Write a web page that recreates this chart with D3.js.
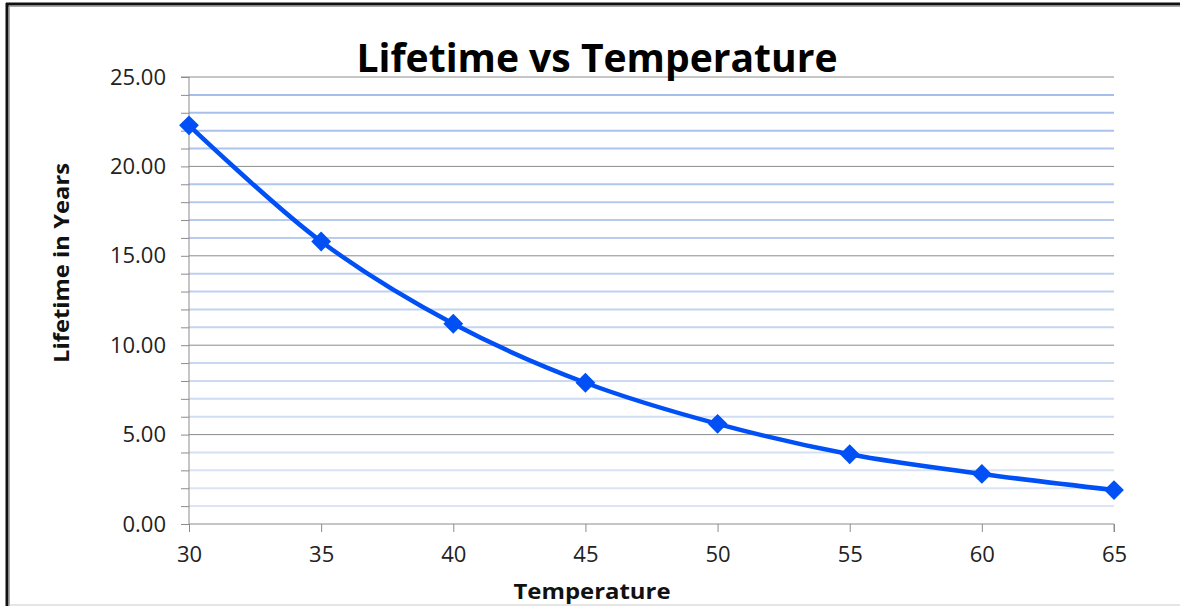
<!DOCTYPE html>
<html><head><meta charset="utf-8">
<script src="https://cdn.jsdelivr.net/npm/d3@7"></script>
<style>body{margin:0;background:#fff}svg{display:block}</style>
</head><body>
<svg id="c" width="1180" height="606"></svg>
<script>
const temperatures = [30, 35, 40, 45, 50, 55, 60, 65];
const lifetimes = [22.3, 15.8, 11.2, 7.9, 5.6, 3.9, 2.8, 1.9];
const yTicks = [0, 5, 10, 15, 20, 25];
const xTicks = [30, 35, 40, 45, 50, 55, 60, 65];
const minorTicks = d3.range(0, 26, 1);

const svg = d3.select("#c");
const L = 189, R = 1114, T = 77, B = 524;
const x = d3.scaleLinear().domain([30, 65]).range([L, R]);
const y = d3.scaleLinear().domain([0, 25]).range([B, T]);
const font = "'Open Sans', 'Liberation Sans', sans-serif";

// frame
svg.append("rect").attr("x",0).attr("y",0).attr("width",1180).attr("height",606).attr("fill","#fff");
svg.append("line").attr("x1",6).attr("x2",1180).attr("y1",4).attr("y2",4).attr("stroke","#111").attr("stroke-width",3);
svg.append("line").attr("x1",6).attr("x2",1180).attr("y1",6.5).attr("y2",6.5).attr("stroke","#aaa").attr("stroke-width",1);
svg.append("line").attr("x1",7).attr("x2",7).attr("y1",3).attr("y2",606).attr("stroke","#111").attr("stroke-width",3);
svg.append("line").attr("x1",9.5).attr("x2",9.5).attr("y1",6).attr("y2",606).attr("stroke","#aaa").attr("stroke-width",1);
svg.append("line").attr("x1",9).attr("x2",1180).attr("y1",605).attr("y2",605).attr("stroke","#ccc").attr("stroke-width",1);

// minor gridlines
const cMinor = d3.interpolateRgb("#dfe7f5", "#a3bdea");
svg.append("g").selectAll("line").data(minorTicks.filter(v => v % 5 !== 0)).join("line")
  .attr("x1", L).attr("x2", R).attr("y1", d => y(d)).attr("y2", d => y(d))
  .attr("stroke", d => cMinor(d / 25)).attr("stroke-width", 2);
// major gridlines
svg.append("g").selectAll("line").data(yTicks.filter(v => v > 0)).join("line")
  .attr("x1", L).attr("x2", R).attr("y1", d => y(d)).attr("y2", d => y(d))
  .attr("stroke", "#8c8c8c").attr("stroke-width", 1);

// y axis
const yAx = svg.append("g").attr("transform", `translate(${L},0)`)
  .call(d3.axisLeft(y).tickValues(minorTicks).tickSize(8).tickFormat(d => yTicks.includes(d) ? d3.format(".2f")(d) : ""));
yAx.select(".domain").attr("stroke", "#8c8c8c").attr("d", `M-8,${T}H0V${B}`);
yAx.selectAll(".tick line").attr("stroke", "#8c8c8c");
yAx.selectAll(".tick text").attr("font-family", font).attr("font-size", 22).attr("fill", "#222").attr("x", -23);

// x axis
const xAx = svg.append("g").attr("transform", `translate(0,${B})`)
  .call(d3.axisBottom(x).tickValues(xTicks).tickSize(8).tickFormat(d3.format("d")));
xAx.select(".domain").attr("stroke", "#8c8c8c").attr("d", `M${L},0H${R}V8`);
xAx.selectAll(".tick line").attr("stroke", "#8c8c8c");
xAx.selectAll(".tick text").attr("font-family", font).attr("font-size", 22).attr("fill", "#222").attr("y", 22);

// series
const data = temperatures.map((t, i) => ({t, v: lifetimes[i]}));
svg.append("path").datum(data)
  .attr("d", d3.line().x(d => x(d.t)).y(d => y(d.v)).curve(d3.curveCatmullRom.alpha(0.5)))
  .attr("fill", "none").attr("stroke", "#0050f5").attr("stroke-width", 4.5);
svg.append("g").selectAll("path").data(data).join("path")
  .attr("transform", d => `translate(${x(d.t)},${y(d.v)}) rotate(45)`)
  .attr("d", "M-7,-7H7V7H-7Z").attr("fill", "#0050f5");

// titles
svg.append("text").attr("x", 597).attr("y", 72).attr("text-anchor", "middle")
  .attr("font-family", font).attr("font-weight", "bold").attr("font-size", 40)
  .attr("textLength", 481).attr("lengthAdjust", "spacingAndGlyphs").attr("fill", "#000")
  .text("Lifetime vs Temperature");
svg.append("text").attr("x", 592).attr("y", 599).attr("text-anchor", "middle")
  .attr("font-family", font).attr("font-weight", "bold").attr("font-size", 21)
  .attr("textLength", 157).attr("lengthAdjust", "spacingAndGlyphs").attr("fill", "#111")
  .text("Temperature");
svg.append("text").attr("transform", "translate(69,263) rotate(-90)").attr("text-anchor", "middle")
  .attr("font-family", font).attr("font-weight", "bold").attr("font-size", 21)
  .attr("textLength", 200).attr("lengthAdjust", "spacingAndGlyphs").attr("fill", "#111")
  .text("Lifetime in Years");
</script>
</body></html>
